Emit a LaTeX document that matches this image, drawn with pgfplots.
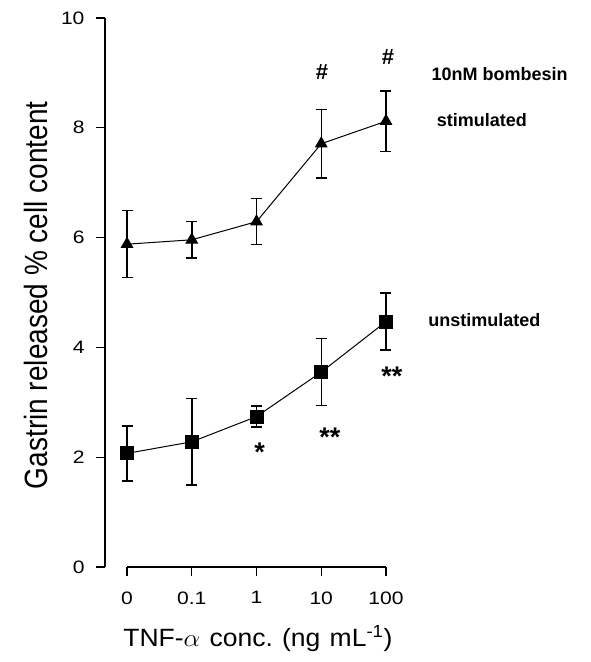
\documentclass[border=0pt]{standalone}
\usepackage{fontspec}
\setmainfont{Liberation Sans}
\usepackage{graphicx}
\usepackage{pgfplots}
\pgfplotsset{compat=1.18}
\newcommand\sx[1]{\scalebox{1.17}[1]{#1}}
\begin{document}
\begin{tikzpicture}
\path[use as bounding box] (-105pt,-95pt) rectangle (485pt,567pt);
\begin{axis}[
  at={(0pt,0pt)}, anchor=south west,
  scale only axis, width=281pt, height=549pt,
  xmin=-0.34, xmax=4, ymin=0, ymax=10,
  axis lines=left,
  axis line style={-, line width=1.6pt},
  x axis line style={draw=none},
  xtick={0,1,2,3,4}, xticklabels={\sx{0},\sx{0.1},\sx{1},\sx{10},\sx{100}},
  ytick={0,2,4,6,8,10}, yticklabels={\sx{0},\sx{2},\sx{4},\sx{6},\sx{8},\sx{10}},
  tick align=outside, major tick length=9pt,
  tick style={line width=1.2pt, black},
  tick label style={font=\fontsize{18}{22}\selectfont},
  yticklabel style={xshift=-8pt},
  xticklabel style={yshift=-12pt},
  xlabel={\scalebox{1.06}[1]{TNF-$\alpha$\hspace{0.35em}conc.\hspace{0.35em}(ng\hspace{0.35em}mL\textsuperscript{-1})}},
  ylabel={\scalebox{1}[1.15]{Gastrin released \% cell content}},
  xlabel style={font=\fontsize{25}{28}\selectfont, at={(axis description cs:0.544,-0.131)}, anchor=center},
  ylabel style={font=\fontsize{28}{30}\selectfont, at={(axis description cs:-0.246,0.495)}, anchor=center, rotate=0},
  clip=false,
]
\addplot[black, line width=1pt, mark=triangle*, mark size=6.5pt, mark options={solid},
  error bars/.cd, y dir=both, y explicit,
  error bar style={line width=1.5pt},
  error mark options={rotate=90, mark size=5.5pt, line width=1.5pt}]
  coordinates {
  (0,5.88) +- (0,0.61)
  (1,5.96) +- (0,0.33)
  (2,6.29) +- (0,0.42)
  (3,7.71) +- (0,0.62)
  (4,8.12) +- (0,0.55)
};
\addplot[black, line width=1pt, mark=square*, mark size=6.5pt, mark options={solid},
  error bars/.cd, y dir=both, y explicit,
  error bar style={line width=1.5pt},
  error mark options={rotate=90, mark size=5.5pt, line width=1.5pt}]
  coordinates {
  (0,2.07) +- (0,0.50)
  (1,2.28) +- (0,0.79)
  (2,2.74) +- (0,0.19)
  (3,3.55) +- (0,0.61)
  (4,4.47) +- (0,0.52)
};
\draw[line width=1.6pt] (axis cs:0,0) -- (axis cs:4,0);
\begin{scope}[every node/.style={font=\fontsize{22}{24}\selectfont\bfseries}]
\node at (axis cs:3.01,9.02) {\#};
\node at (axis cs:4.03,9.29) {\#};
\end{scope}
\begin{scope}[every node/.style={font=\fontsize{18}{20}\selectfont\bfseries}]
\node[anchor=west] at (axis cs:4.65,8.97) {10nM bombesin};
\node[anchor=west] at (axis cs:4.73,8.14) {stimulated};
\node[anchor=west] at (axis cs:4.6,4.50) {unstimulated};
\end{scope}
\begin{scope}[every node/.style={font=\fontsize{27}{28}\selectfont\bfseries, inner sep=0pt, anchor=north}]
\node at (axis cs:2.05,2.26) {*};
\node at (axis cs:3.135,2.53) {**};
\node at (axis cs:4.09,3.64) {**};
\end{scope}
\end{axis}
\end{tikzpicture}
\end{document}
